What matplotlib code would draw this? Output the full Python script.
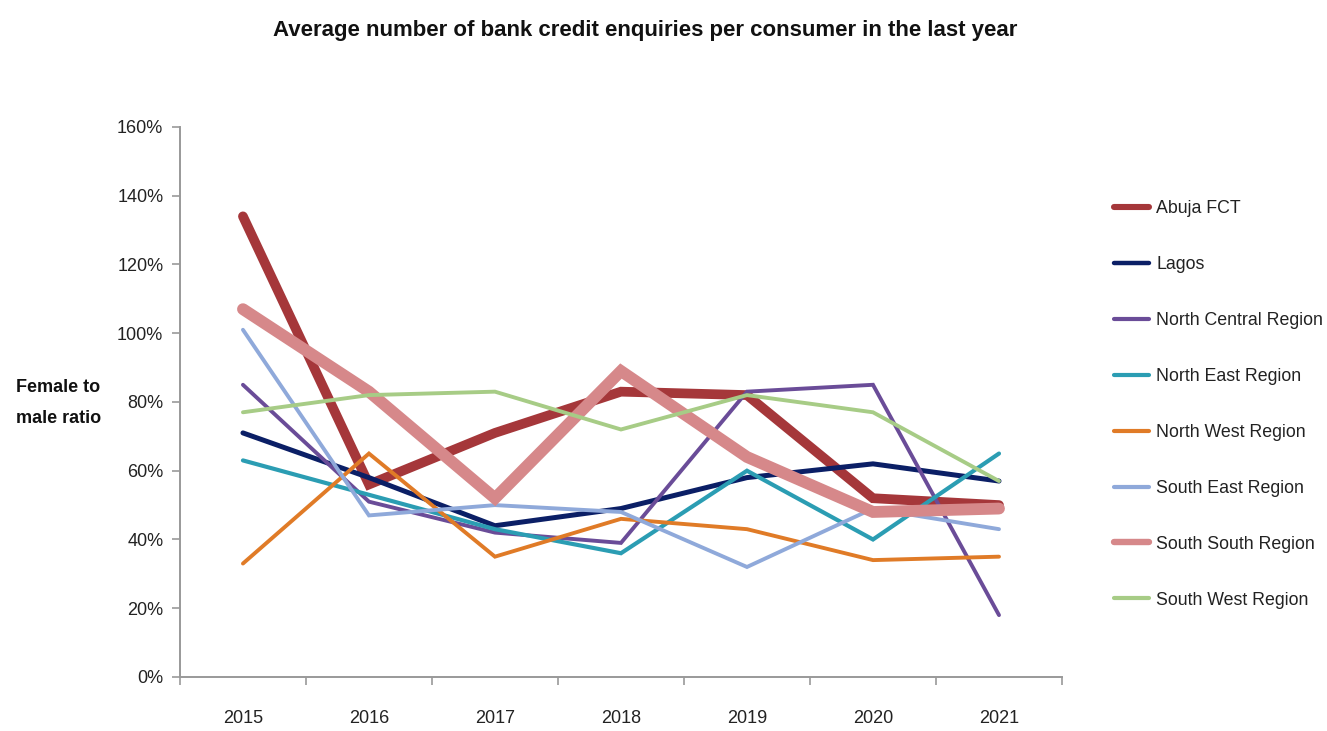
import matplotlib
matplotlib.use("Agg")
import matplotlib.pyplot as plt
from matplotlib.ticker import FuncFormatter, FixedLocator

plt.rcParams['font.family'] = ['Liberation Sans', 'DejaVu Sans']

years = ["2015", "2016", "2017", "2018", "2019", "2020", "2021"]

abuja_fct = [134, 56, 71, 83, 82, 52, 50]
lagos = [71, 58, 44, 49, 58, 62, 57]
north_central = [85, 51, 42, 39, 83, 85, 18]
north_east = [63, 53, 43, 36, 60, 40, 65]
north_west = [33, 65, 35, 46, 43, 34, 35]
south_east = [101, 47, 50, 48, 32, 49, 43]
south_south = [107, 83, 52, 89, 64, 48, 49]
south_west = [77, 82, 83, 72, 82, 77, 57]

# (label, values, colour, plot line width, legend line width)
series = [
    ("Abuja FCT", abuja_fct, "#A5373A", 7.0, 4.4),
    ("Lagos", lagos, "#0B1F66", 3.6, 3.2),
    ("North Central Region", north_central, "#6A4C98", 2.8, 3.0),
    ("North East Region", north_east, "#2B9DB3", 3.0, 3.0),
    ("North West Region", north_west, "#E07B27", 2.8, 3.0),
    ("South East Region", south_east, "#8FA9DA", 2.8, 3.0),
    ("South South Region", south_south, "#D6888A", 8.5, 4.6),
    ("South West Region", south_west, "#A7CC86", 2.8, 3.0),
]

fig = plt.figure(figsize=(13.27, 7.31), dpi=100)
ax = fig.add_axes([0.1356, 0.0739, 0.6647, 0.7524])

x = list(range(len(years)))
handles = []
for name, vals, color, lw, _ in series:
    h, = ax.plot(x, vals, color=color, lw=lw, solid_capstyle='round',
                 solid_joinstyle='miter', label=name)
    handles.append(h)

ax.set_xlim(-0.5, len(years) - 0.5)
ax.set_ylim(0, 160)
ax.set_yticks(range(0, 161, 20))
ax.yaxis.set_major_formatter(FuncFormatter(lambda v, p: f"{int(v)}%"))

ax.set_xticks(x)
ax.set_xticklabels(years)
ax.xaxis.set_minor_locator(FixedLocator([i - 0.5 for i in range(len(years) + 1)]))
ax.tick_params(axis='x', which='major', length=0, pad=24, labelsize=13, colors='#222222')
ax.tick_params(axis='x', which='minor', length=6, width=1.2, color='#999999', direction='out')
ax.tick_params(axis='y', which='major', length=6, width=1.2, color='#999999',
               direction='out', labelsize=13, labelcolor='#222222', pad=6)

for s in ['top', 'right']:
    ax.spines[s].set_visible(False)
for s in ['left', 'bottom']:
    ax.spines[s].set_color('#999999')
    ax.spines[s].set_linewidth(1.4)

fig.text(0.486, 0.958, "Average number of bank credit enquiries per consumer in the last year",
         ha='center', va='center', fontsize=16, fontweight='bold', color='#111111')
fig.text(0.044, 0.449, "Female to\nmale ratio", ha='center', va='center',
         fontsize=13, fontweight='bold', color='#111111', linespacing=2.1)

leg = fig.legend(handles=handles, loc='upper left', bbox_to_anchor=(0.834, 0.736),
                 frameon=False, fontsize=12.8, handlelength=2.0, handletextpad=0.4,
                 labelspacing=2.19, borderaxespad=0)
for line, (_, _, _, _, lw_leg) in zip(leg.get_lines(), series):
    line.set_linewidth(lw_leg)
for t in leg.get_texts():
    t.set_color('#222222')

fig.savefig("out.png", dpi=100, facecolor='white')
